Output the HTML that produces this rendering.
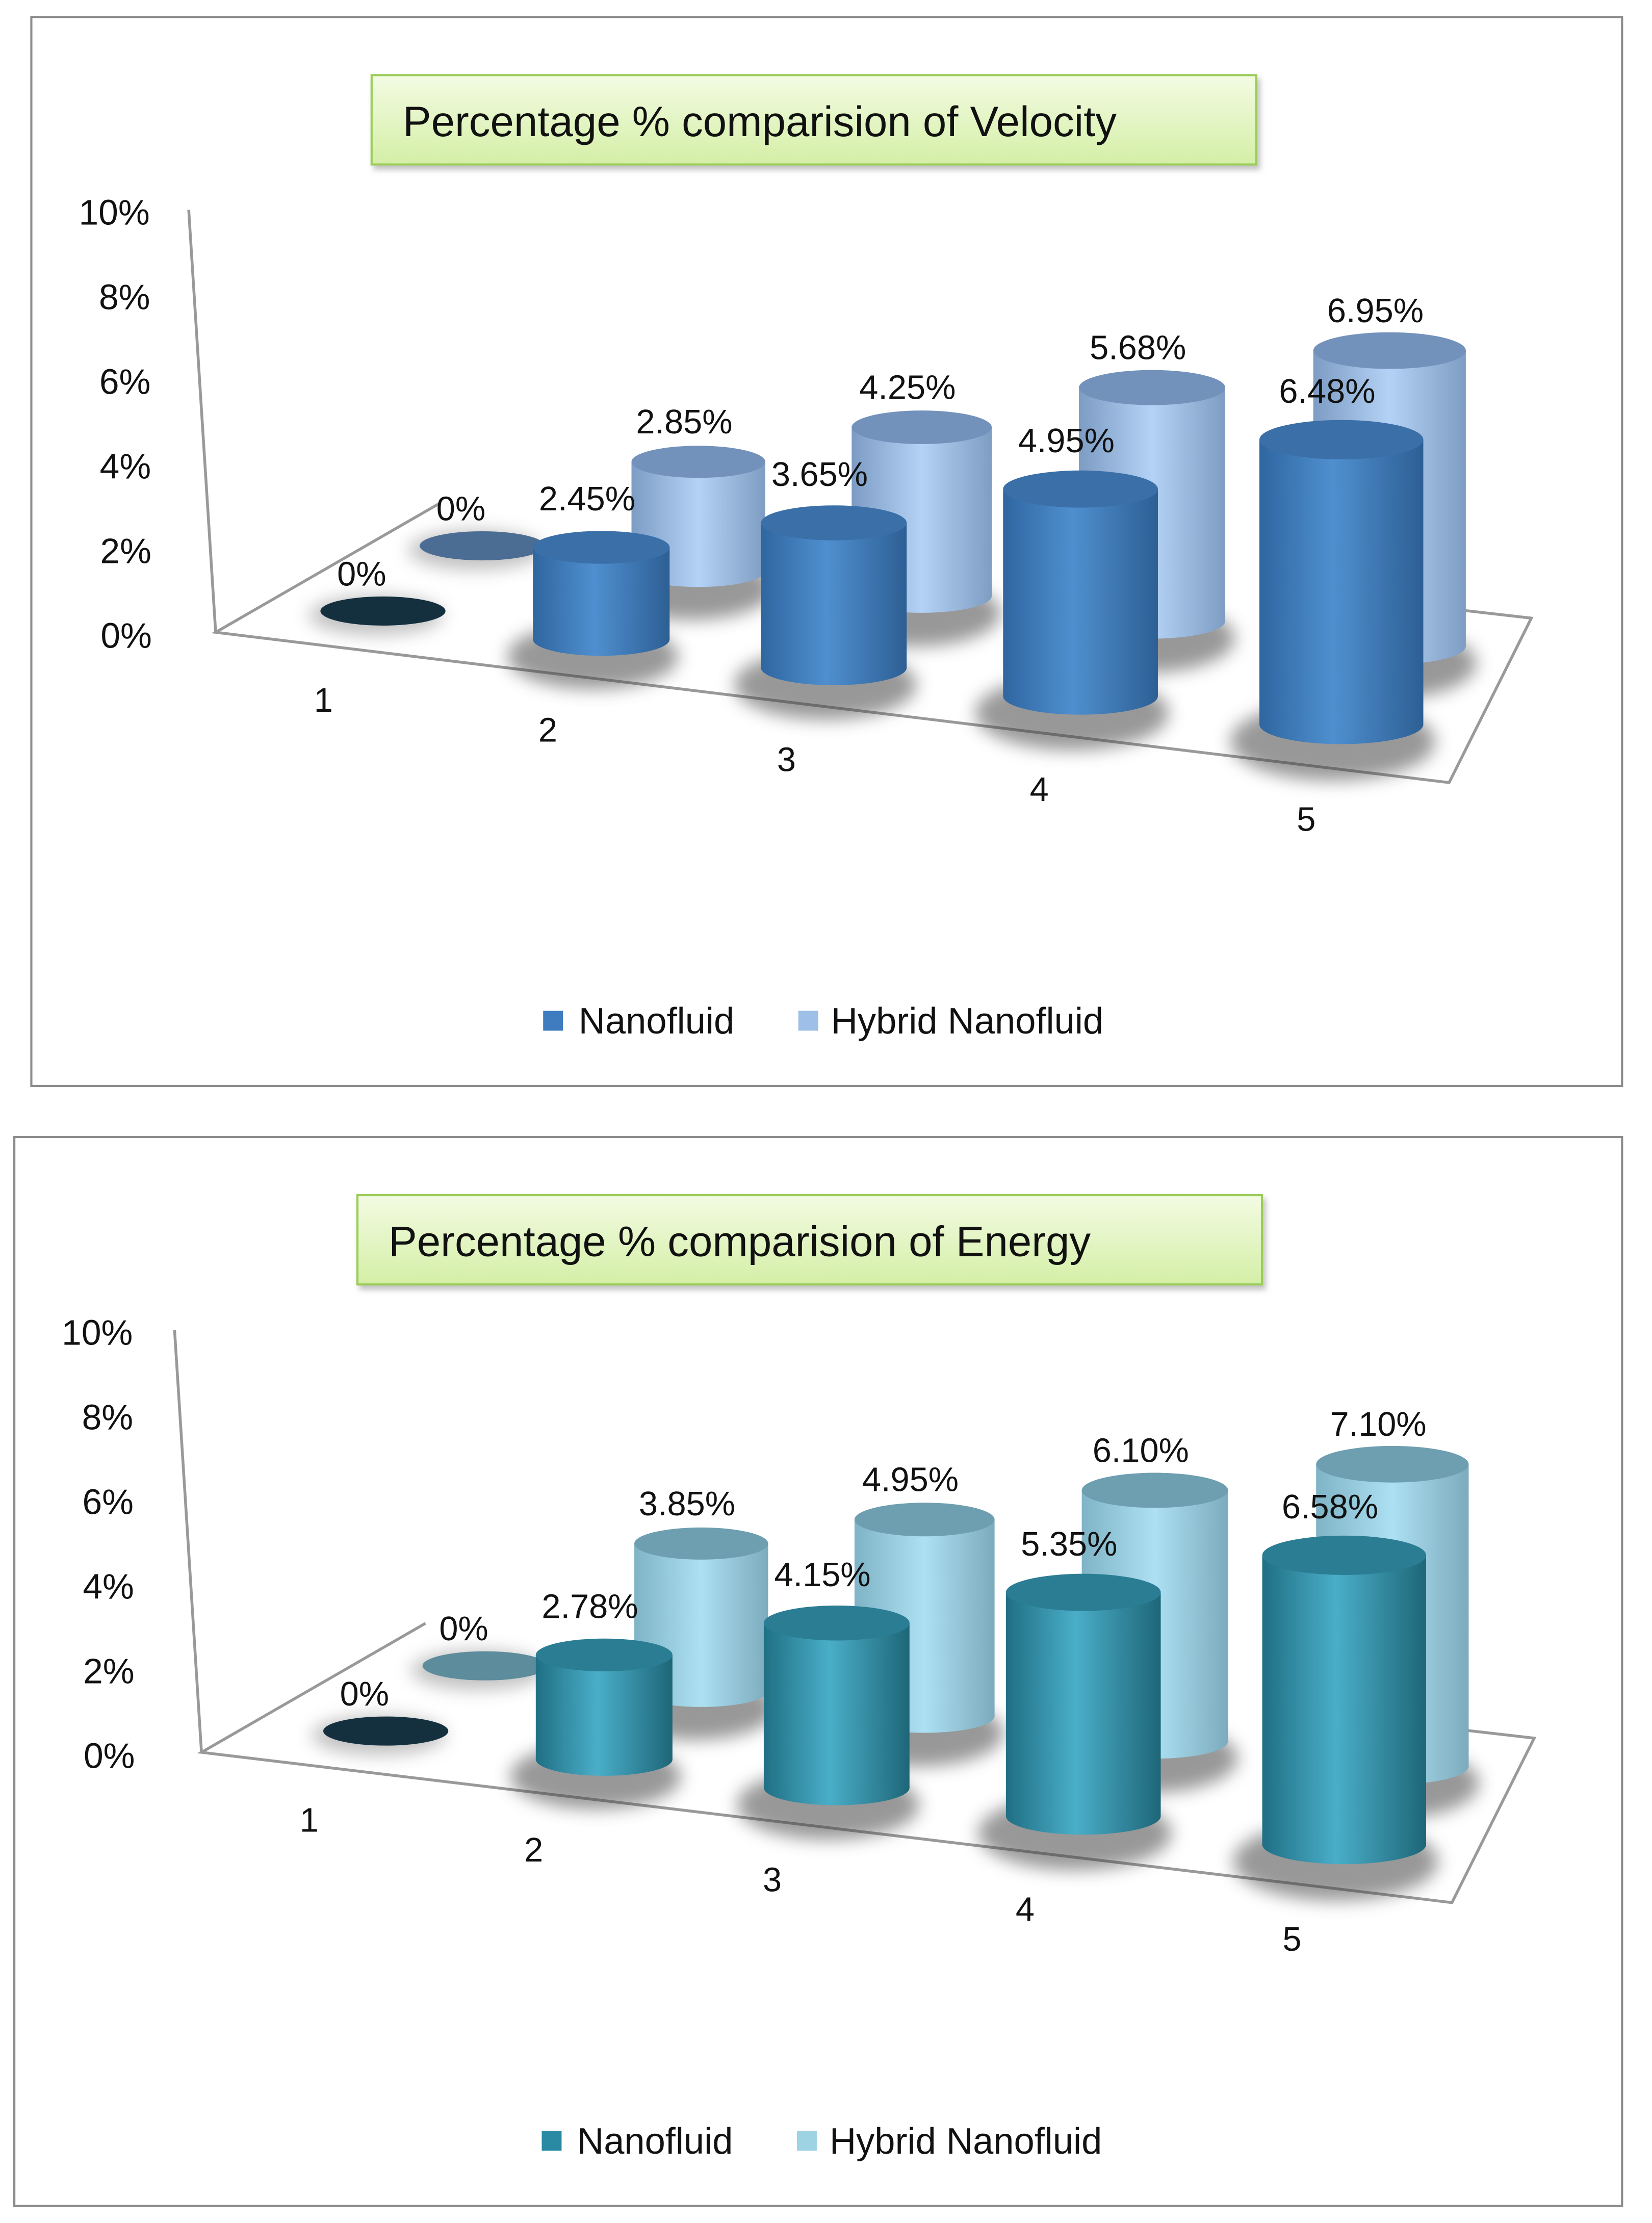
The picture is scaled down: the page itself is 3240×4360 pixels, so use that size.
<!DOCTYPE html>
<html><head><meta charset="utf-8"><style>
html,body{margin:0;padding:0;background:#fff;}
svg{display:block;font-family:"Liberation Sans","DejaVu Sans",sans-serif;}
</style></head><body>
<svg id="s" width="3240" height="4360" viewBox="0 0 1165 1568" xmlns="http://www.w3.org/2000/svg">
<defs>
<linearGradient id="titleG" x1="0" y1="0" x2="0" y2="1"><stop offset="0" stop-color="#f3fbe3"/><stop offset="1" stop-color="#d4efa6"/></linearGradient>
<filter id="blur" x="-50%" y="-100%" width="200%" height="300%"><feGaussianBlur stdDeviation="6"/></filter>
<filter id="tshadow" x="-10%" y="-30%" width="120%" height="160%"><feDropShadow dx="2" dy="3" stdDeviation="2" flood-color="#999" flood-opacity="0.6"/></filter>
</defs>
</svg>
<script>
const categories=['1','2','3','4','5'];
const velNano=[0,2.45,3.65,4.95,6.48];
const velHybrid=[0,2.85,4.25,5.68,6.95];
const engNano=[0,2.78,4.15,5.35,6.58];
const engHybrid=[0,3.85,4.95,6.10,7.10];
const yTicks=['0%','2%','4%','6%','8%','10%'];
const seriesNames=['Nanofluid','Hybrid Nanofluid'];

const NS='http://www.w3.org/2000/svg';
const svg=document.getElementById('s');
const defs=svg.querySelector('defs');
function mk(tag,attrs,parent){const e=document.createElementNS(NS,tag);for(const k in attrs)e.setAttribute(k,attrs[k]);(parent||svg).appendChild(e);return e;}
function grad(id,stops){const g=mk('linearGradient',{id:id,x1:0,y1:0,x2:1,y2:0},defs);stops.forEach(s=>mk('stop',{offset:s[0],'stop-color':s[1]},g));}

function chart(opt){
  const dx=opt.dx,dy=opt.dy,p=opt.p,bdx=opt.bdx;
  const g=mk('g',{});
  
  
  const frame=mk('rect',{x:22+opt.fdx,y:12+dy,width:1122-opt.fdx,height:754,fill:'#fff',stroke:'#8c8c8c','stroke-width':1.5},g);
  
  
  const tb=mk('rect',{x:opt.tx,y:53+dy,width:opt.tw,height:63,fill:'url(#titleG)',stroke:'#9ccc5a','stroke-width':1.5,filter:'url(#tshadow)'},g);
  
  
  const tt=mk('text',{x:opt.tx+22,y:96+dy,'font-size':30,fill:'#111'},g);
  tt.textContent=opt.title;
  
  
  const ax=mk('line',{x1:133+dx,y1:148+dy,x2:152+dx,y2:446+dy,stroke:'#999','stroke-width':2},g);
  
  
  const fl=mk('polyline',{points:`${310+dx},${355+dy} ${152+dx},${446+dy} ${1022+bdx},${552+dy} ${1080+bdx},${436+dy} ${1010+bdx},${428+dy}`,fill:'none',stroke:'#999','stroke-width':2},g);
  
  
  yTicks.forEach((t,i)=>{
    const e=mk('text',{x:107+dx+opt.ydx-i*0.3,y:457+dy-i*59.7,'font-size':25,'text-anchor':'end',fill:'#111'},g);
    e.textContent=t;
    
    
  });
  const front=i=>({cx:270+bdx+149*i+5*i*i,cy:431+dy+20*i,rx:45+3.2*i,sc:25+1.5*i});
  const back=i=>({cx:340+bdx+150*i+2.5*i*i,cy:385+dy+17.7*i,rx:45+2.2*i,sc:26+1*i});
  function cyl(pos,v,gid,topCol,zeroCol,name,labelOff){
    const c=pos;const ry=c.rx*0.24;
    const cg=mk('g',{},g);
    
    
    if(v<=0){
      mk('ellipse',{cx:c.cx-5,cy:c.cy+3,rx:c.rx*1.05,ry:ry*1.3,fill:'#999',opacity:0.6,filter:'url(#blur)'},cg);
      mk('ellipse',{cx:c.cx,cy:c.cy,rx:c.rx*0.98,ry:ry*0.95,fill:zeroCol},cg);
      const l=mk('text',{x:c.cx-15,y:c.cy-18,'font-size':24,'text-anchor':'middle',fill:'#111'},g);
      l.textContent='0%';
      
      
      return;
    }
    const h=v*c.sc, top=c.cy-h;
    mk('ellipse',{cx:c.cx-6,cy:c.cy+12,rx:c.rx*1.25,ry:ry*2.0,fill:'#444',opacity:0.55,filter:'url(#blur)'},cg);
    mk('rect',{x:c.cx-c.rx,y:top,width:2*c.rx,height:h,fill:`url(#${gid})`},cg);
    mk('ellipse',{cx:c.cx,cy:c.cy,rx:c.rx,ry:ry,fill:`url(#${gid})`},cg);
    mk('ellipse',{cx:c.cx,cy:top,rx:c.rx,ry:ry,fill:topCol},cg);
    const l=mk('text',{x:c.cx-10,y:top-labelOff,'font-size':24,'text-anchor':'middle',fill:'#111'},g);
    l.textContent=v.toFixed(2)+'%';
    
    
  }
  grad(p+'F',[[0,p==='v'?'#2f66a0':'#1f6f84'],[0.45,p==='v'?'#4f8fcf':'#4aaec8'],[1,p==='v'?'#2d5f94':'#1e6678']]);
  grad(p+'B',[[0,p==='v'?'#7d9cc4':'#7fb3c6'],[0.5,p==='v'?'#b4d2f5':'#ace0f2'],[1,p==='v'?'#7e9dc2':'#7cabbd']]);
  opt.hyb.forEach((v,i)=>cyl(back(i),v,p+'B',p==='v'?'#7292bc':'#6e9fb0',p==='v'?'#4c6d93':'#5d8c9c','bar-hybrid-'+categories[i],20));
  opt.nano.forEach((v,i)=>cyl(front(i),v,p+'F',p==='v'?'#3b6fa8':'#2a7d92','#14303f','bar-nanofluid-'+categories[i],26));
  categories.forEach((c,i)=>{
    const f=front(i);
    const e=mk('text',{x:f.cx-42+4.3*i-opt.bdx+opt.dx,y:502+dy+21*i,'font-size':24,'text-anchor':'middle',fill:'#111'},g);
    e.textContent=c;
    
    
  });
  const lg=mk('g',{},g);
  
  
  [[383,408,p==='v'?'#3f7cbf':'#2a8aa3'],[563,586,p==='v'?'#9dbfe8':'#9ed3e3']].forEach((L,k)=>{
    const r=mk('rect',{x:L[0]+opt.ldx,y:713+dy,width:14,height:14,fill:L[2]},lg);
    
    
    const t=mk('text',{x:L[1]+opt.ldx,y:729+dy,'font-size':26,fill:'#111'},lg);
    t.textContent=seriesNames[k];
    
    
  });
}
chart({name:'velocity-chart',dx:0,bdx:0,ydx:0,dy:0,fdx:0,p:'v',tx:262,tw:624,title:'Percentage % comparision of Velocity',nano:velNano,hyb:velHybrid,ldx:0});
chart({name:'energy-chart',dx:-10,bdx:2,ydx:-2,dy:790,fdx:-12,p:'e',tx:252,tw:638,title:'Percentage % comparision of Energy',nano:engNano,hyb:engHybrid,ldx:-1});
</script>
</body></html>
